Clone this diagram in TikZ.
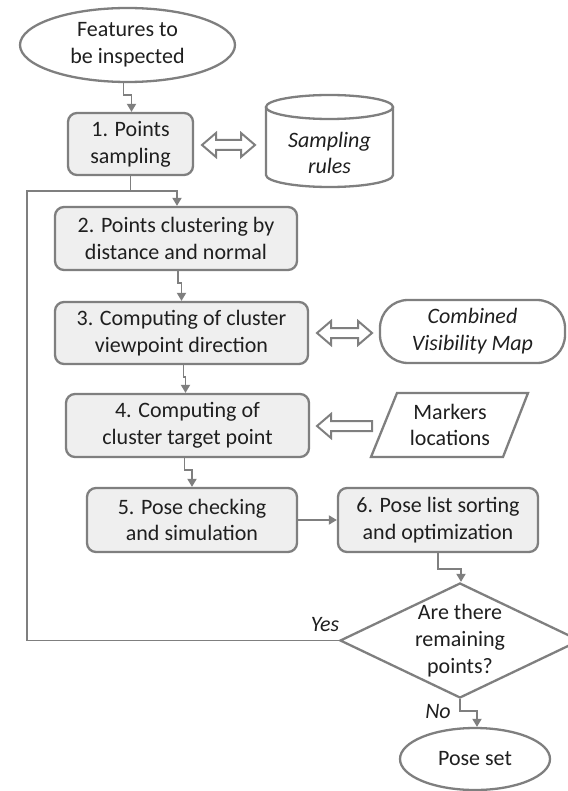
\documentclass[tikz,border=0pt]{standalone}
\usepackage{fontspec}
\setmainfont{Carlito}
\usetikzlibrary{shapes.geometric,arrows.meta,calc}
\definecolor{bord}{HTML}{7F7F7F}
\definecolor{boxfill}{HTML}{EFEFEF}
\definecolor{txt}{HTML}{1F1F1F}
\newcommand\hdblarrow[3]{% x1 x2 y
  \draw[hollow] (#1,#3) -- (#1+14,#3-12) -- (#1+14,#3-5) -- (#2-14,#3-5) -- (#2-14,#3-12) -- (#2,#3)
    -- (#2-14,#3+12) -- (#2-14,#3+5) -- (#1+14,#3+5) -- (#1+14,#3+12) -- cycle;}
\begin{document}
\begin{tikzpicture}[x=1pt,y=-1pt,
  txtstyle/.style={text=txt, font=\fontsize{22}{26.8}\selectfont, align=center},
  itstyle/.style={txtstyle, font=\fontsize{22}{26.8}\selectfont\itshape},
  stepbox/.style={txtstyle, draw=bord, line width=2.3pt, fill=boxfill, rounded corners=9pt, inner sep=0pt},
  term/.style={txtstyle, ellipse, draw=bord, line width=2.3pt, fill=white, inner sep=0pt},
  outline/.style={draw=bord, line width=2.3pt, fill=white},
  hollow/.style={draw=bord, line width=2pt, fill=white, line join=miter},
  conn/.style={draw=bord, line width=1.8pt, -{Triangle[length=8pt,width=9pt]}},
  plain/.style={draw=bord, line width=1.8pt}]
\useasboundingbox (0,0) rectangle (567,791);

% terminals
\node[term, minimum width=215pt, minimum height=74pt] (feat) at (127.5,45) {Features to\\be inspected};
\node[term, minimum width=150pt, minimum height=62pt] (pose) at (475,759) {Pose set};

% process boxes
\node[stepbox, minimum width=125pt, minimum height=62pt] (b1) at (130.5,144) {1. Points\\sampling};
\node[stepbox, minimum width=242pt, minimum height=63pt] (b2) at (176,238.5) {2. Points clustering by\\distance and normal};
\node[stepbox, minimum width=253pt, minimum height=62pt] (b3) at (181.5,333) {3. Computing of cluster\\viewpoint direction};
\node[stepbox, minimum width=243pt, minimum height=63pt] (b4) at (187.5,425.5) {4. Computing of\\cluster target point};
\node[stepbox, minimum width=210pt, minimum height=64pt] (b5) at (192,520) {5. Pose checking\\and simulation};
\node[stepbox, minimum width=200pt, minimum height=64pt] (b6) at (438,520) {6. Pose list sorting\\and optimization};

% decision
\node[diamond, draw=bord, line width=2.3pt, fill=white, inner sep=0pt, minimum width=240pt, minimum height=115pt] (dia) at (460,640.5) {};
\node[txtstyle] (diat) at (dia.center) {Are there\\remaining\\points?};

% cylinder: sampling rules
\draw[outline] (266,107) -- (266,175) arc[start angle=180, end angle=0, x radius=63.5, y radius=12] -- (393,107);
\draw[outline] (329.5,107) ellipse[x radius=63.5, y radius=12];
\node[itstyle] (rules) at (329.5,153) {Sampling\\rules};

% combined visibility map
\node[itstyle, draw=bord, line width=2.3pt, rounded corners=28pt, minimum width=185pt, minimum height=63pt, inner sep=0pt] (cvm) at (472.5,331.5) {Combined\\Visibility Map};

% markers locations
\draw[outline] (397,393) -- (528,393) -- (503,457) -- (371,457) -- cycle;
\node[txtstyle] (mk) at (450,425) {Markers\\locations};

% hollow arrows
\hdblarrow{202}{255}{145}
\hdblarrow{317}{372}{333}
\draw[hollow] (317,426) -- (331,414) -- (331,421) -- (372,421) -- (372,431) -- (331,431) -- (331,438) -- cycle;

% connectors
\coordinate (lc) at (27,191);
\coordinate (lb) at (27,640.5);
\draw[conn] ([xshift=-4pt]feat.south) -- ++(0,12) -| ([xshift=1pt]b1.north);
\draw[plain] (b1.south) -- (b1.south |- lc);
\draw[conn] (dia.west) -- (lb) -- (lc) -| ([xshift=1pt]b2.north);
\draw[conn] ([xshift=2pt]b2.south) -- ++(0,12) -| (b3.north);
\draw[conn] ([xshift=2pt]b3.south) -- ++(0,12) -| ([xshift=-2pt]b4.north);
\draw[conn] ([xshift=-3pt]b4.south) -- ++(0,12) -| (b5.north);
\draw[conn] (b5.east) -- (b6.west);
\draw[conn] (b6.south) -- ++(0,16) -| ([xshift=1pt]dia.north);
\draw[conn] (dia.south) -- ++(0,12) -| ([xshift=2pt]pose.north);

% labels
\node[itstyle] (yes) at (325,625) {Yes};
\node[itstyle] (no) at (438,712) {No};
\end{tikzpicture}
\end{document}
